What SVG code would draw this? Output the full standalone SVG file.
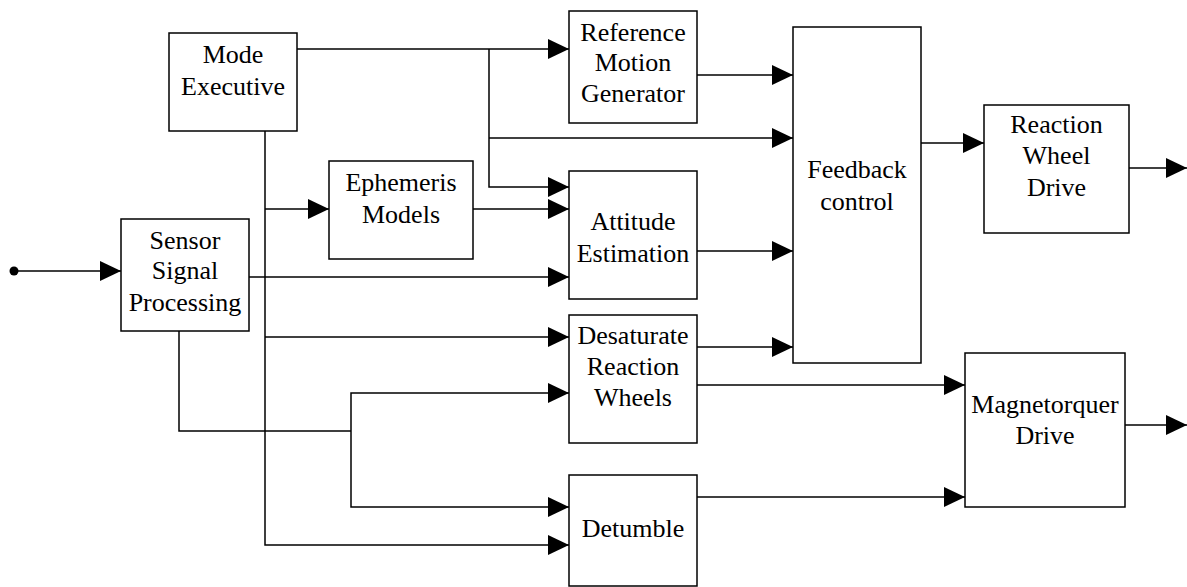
<svg xmlns="http://www.w3.org/2000/svg" width="1187" height="587" viewBox="0 0 1187 587">
<style>
.box{fill:#fff;stroke:#000;stroke-width:1.5}
.lbl{font-size:26px;text-anchor:middle;fill:#000}
.c{fill:none;stroke:#000;stroke-width:1.5}
.a{marker-end:url(#ah)}
</style>
<defs>
<marker id="ah" viewBox="0 0 21 20" refX="21" refY="10" markerWidth="21" markerHeight="20" markerUnits="userSpaceOnUse" orient="auto">
<path d="M0,0 L21,10 L0,20 z" fill="#000"/>
</marker>
</defs>
<rect width="1187" height="587" fill="#fff"/>
<g id="connectors">
<path class="c a" d="M297,49 H569"/>
<path class="c a" d="M489,49 V187 H569"/>
<path class="c a" d="M489,138 H793"/>
<path class="c a" d="M697,75 H793"/>
<path class="c a" d="M265,131 V545 H569"/>
<path class="c a" d="M265,209 H329"/>
<path class="c a" d="M467,209 H569"/>
<circle cx="14" cy="271" r="4.5" fill="#000"/>
<path class="c a" d="M14,271 H121"/>
<path class="c a" d="M249,277 H569"/>
<path class="c a" d="M265,337 H569"/>
<path class="c" d="M179,331 V431 H351"/>
<path class="c a" d="M351,431 V393 H569"/>
<path class="c a" d="M351,431 V507 H569"/>
<path class="c a" d="M697,251 H793"/>
<path class="c a" d="M697,347 H793"/>
<path class="c a" d="M697,385 H965"/>
<path class="c a" d="M697,497 H965"/>
<path class="c a" d="M921,143 H984"/>
<path class="c a" d="M1129,168 H1187"/>
<path class="c a" d="M1125,425 H1187"/>
</g>
<g font-family="'Liberation Serif', 'DejaVu Serif', serif">
<g id="mode-executive"><rect class="box" x="169" y="33" width="128" height="98"/><text class="lbl" x="233" y="63">Mode</text><text class="lbl" x="233" y="95">Executive</text></g>
<g id="reference-motion-generator"><rect class="box" x="569" y="11" width="128" height="112"/><text class="lbl" x="633" y="41">Reference</text><text class="lbl" x="633" y="71">Motion</text><text class="lbl" x="633" y="102">Generator</text></g>
<g id="ephemeris-models"><rect class="box" x="329" y="161" width="144" height="98"/><text class="lbl" x="401" y="191">Ephemeris</text><text class="lbl" x="401" y="223">Models</text></g>
<g id="sensor-signal-processing"><rect class="box" x="121" y="219" width="128" height="112"/><text class="lbl" x="185" y="249">Sensor</text><text class="lbl" x="185" y="279">Signal</text><text class="lbl" x="185" y="311">Processing</text></g>
<g id="attitude-estimation"><rect class="box" x="569" y="171" width="128" height="128"/><text class="lbl" x="633" y="230">Attitude</text><text class="lbl" x="633" y="262">Estimation</text></g>
<g id="feedback-control"><rect class="box" x="793" y="27" width="128" height="336"/><text class="lbl" x="857" y="178">Feedback</text><text class="lbl" x="857" y="210">control</text></g>
<g id="reaction-wheel-drive"><rect class="box" x="984" y="105" width="145" height="128"/><text class="lbl" x="1056.5" y="133">Reaction</text><text class="lbl" x="1056.5" y="164">Wheel</text><text class="lbl" x="1056.5" y="196">Drive</text></g>
<g id="desaturate-reaction-wheels"><rect class="box" x="569" y="315" width="128" height="128"/><text class="lbl" x="633" y="344">Desaturate</text><text class="lbl" x="633" y="375">Reaction</text><text class="lbl" x="633" y="406">Wheels</text></g>
<g id="magnetorquer-drive"><rect class="box" x="965" y="353" width="160" height="154"/><text class="lbl" x="1045" y="413">Magnetorquer</text><text class="lbl" x="1045" y="444">Drive</text></g>
<g id="detumble"><rect class="box" x="569" y="475" width="128" height="111"/><text class="lbl" x="633" y="537">Detumble</text></g>
</g>
</svg>
